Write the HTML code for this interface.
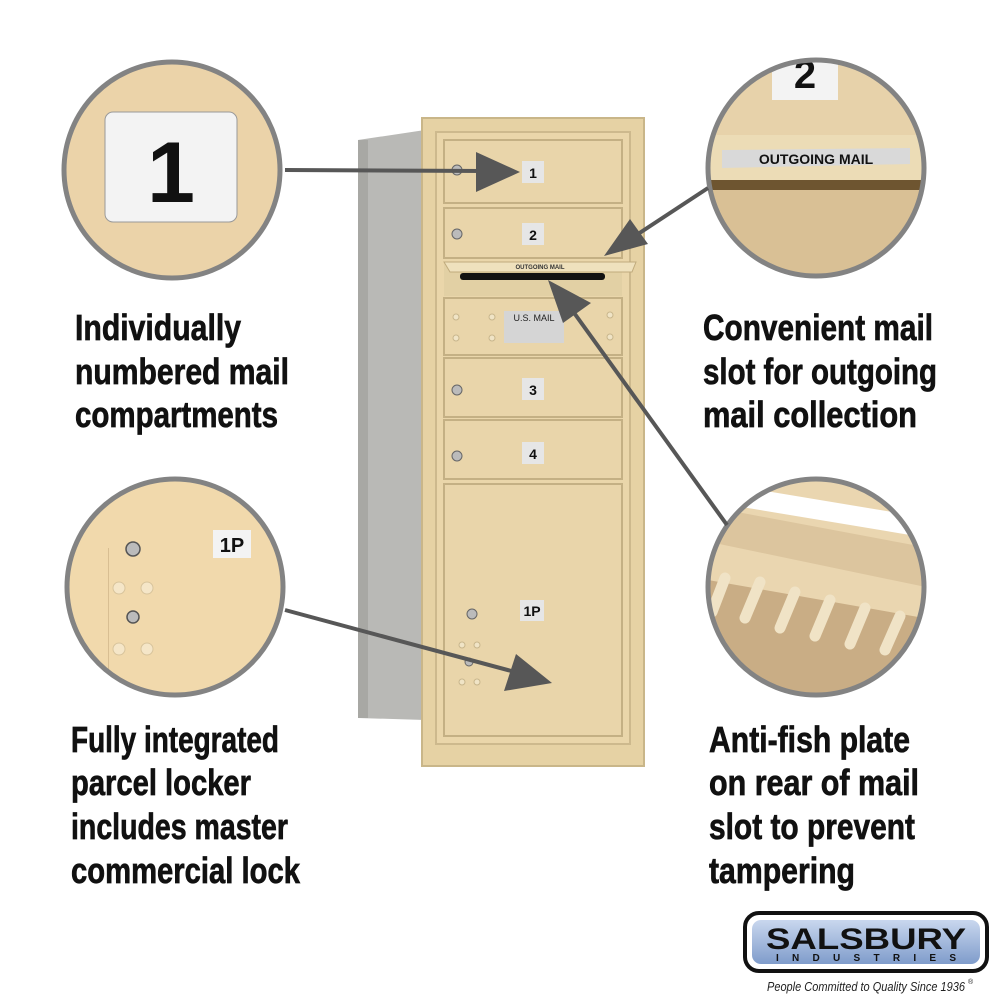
<!DOCTYPE html>
<html><head><meta charset="utf-8"><style>
html,body{margin:0;padding:0;background:#fff;}
svg{display:block}
.t{font-family:"Liberation Sans Narrow","Liberation Sans",sans-serif;font-weight:bold;font-size:36px;fill:#111;stroke:#111;stroke-width:0.7;}
</style></head><body>
<svg width="1000" height="1000" viewBox="0 0 1000 1000" xmlns="http://www.w3.org/2000/svg">
<defs>
<clipPath id="c1"><circle cx="172" cy="170" r="108"/></clipPath>
<clipPath id="c2"><circle cx="816" cy="168" r="108"/></clipPath>
<clipPath id="c3"><circle cx="175" cy="587" r="108"/></clipPath>
<clipPath id="c4"><circle cx="816" cy="587" r="108"/></clipPath>
<linearGradient id="lg" x1="0" y1="0" x2="0" y2="1"><stop offset="0" stop-color="#c9d7ee"/><stop offset="1" stop-color="#7f9ccb"/></linearGradient>
</defs>
<polygon points="358,140 425,130 425,720 358,718" fill="#b9b9b6"/>
<rect x="358" y="140" width="10" height="578" fill="#a8a8a4"/>
<rect x="422" y="118" width="222" height="648" fill="#e6d2a4" stroke="#c9b689" stroke-width="2"/>
<rect x="436" y="132" width="194" height="612" fill="#ead6aa" stroke="#cdb98d" stroke-width="2"/>
<g fill="#e9d5aa" stroke="#c4b084" stroke-width="2">
<rect x="444" y="140" width="178" height="63"/>
<rect x="444" y="208" width="178" height="50"/>
<rect x="444" y="298" width="178" height="57"/>
<rect x="444" y="358" width="178" height="59"/>
<rect x="444" y="420" width="178" height="59"/>
<rect x="444" y="484" width="178" height="252"/>
</g>
<rect x="444" y="262" width="178" height="34" fill="#e2d0a4"/>
<polygon points="444,262 636,262 632,272 450,272" fill="#efe1bd" stroke="#c0ab7d"/>
<rect x="460" y="273" width="145" height="7" rx="3" fill="#111"/>
<text x="540" y="269" font-family="Liberation Sans" font-size="6" font-weight="bold" text-anchor="middle" fill="#333">OUTGOING MAIL</text>
<g font-family="Liberation Sans" font-weight="bold" font-size="14" text-anchor="middle" fill="#111">
<rect x="522" y="161" width="22" height="22" fill="#e6e6e6"/><text x="533" y="178">1</text>
<rect x="522" y="223" width="22" height="22" fill="#e6e6e6"/><text x="533" y="240">2</text>
<rect x="522" y="378" width="22" height="22" fill="#e6e6e6"/><text x="533" y="395">3</text>
<rect x="522" y="442" width="22" height="22" fill="#e6e6e6"/><text x="533" y="459">4</text>
<rect x="520" y="600" width="24" height="21" fill="#e6e6e6"/><text x="532" y="616">1P</text>
</g>
<rect x="504" y="311" width="60" height="32" fill="#d5d5d5"/>
<text x="534" y="321" font-family="Liberation Sans" font-size="9" text-anchor="middle" fill="#222">U.S. MAIL</text>
<g fill="#f0e4c6" stroke="#c8b68c"><circle cx="456" cy="317" r="3"/><circle cx="456" cy="338" r="3"/><circle cx="492" cy="317" r="3"/><circle cx="492" cy="338" r="3"/><circle cx="610" cy="315" r="3"/><circle cx="610" cy="337" r="3"/>
<circle cx="462" cy="645" r="3"/><circle cx="477" cy="645" r="3"/><circle cx="462" cy="682" r="3"/><circle cx="477" cy="682" r="3"/></g>
<g fill="#bbb" stroke="#666"><circle cx="457" cy="170" r="5"/><circle cx="457" cy="234" r="5"/><circle cx="457" cy="390" r="5"/><circle cx="457" cy="456" r="5"/><circle cx="472" cy="614" r="5"/><circle cx="469" cy="662" r="4"/></g>
<g clip-path="url(#c1)"><rect x="60" y="60" width="230" height="230" fill="#ebd3a9"/>
<rect x="105" y="112" width="132" height="110" rx="8" fill="#f3f3f3" stroke="#999"/>
<text x="171" y="202" font-family="Liberation Sans" font-weight="bold" font-size="86" text-anchor="middle" fill="#111">1</text></g>
<circle cx="172" cy="170" r="108" fill="none" stroke="#838383" stroke-width="5"/>
<g clip-path="url(#c2)"><rect x="700" y="55" width="240" height="230" fill="#e7d2aa"/>
<rect x="772" y="55" width="66" height="45" fill="#f3f3f3"/>
<text x="805" y="88" font-family="Liberation Sans" font-weight="bold" font-size="40" text-anchor="middle" fill="#111">2</text>
<rect x="700" y="135" width="240" height="45" fill="#ecdcb6"/>
<polygon points="722,150 910,148 910,164 722,168" fill="#d9d9d9"/>
<text x="816" y="164" font-family="Liberation Sans" font-weight="bold" font-size="14" text-anchor="middle" fill="#111">OUTGOING MAIL</text>
<rect x="700" y="180" width="240" height="10" fill="#6e5530"/>
<rect x="700" y="190" width="240" height="100" fill="#d9c095"/></g>
<circle cx="816" cy="168" r="108" fill="none" stroke="#838383" stroke-width="5"/>
<g clip-path="url(#c3)"><rect x="60" y="470" width="240" height="240" fill="#f1d9ac"/>
<rect x="108" y="548" width="1" height="140" fill="#d8be92"/>
<rect x="213" y="530" width="38" height="28" fill="#f3f3f3"/>
<text x="232" y="552" font-family="Liberation Sans" font-weight="bold" font-size="20" text-anchor="middle" fill="#111">1P</text>
<g fill="#bbb" stroke="#555" stroke-width="1.5"><circle cx="133" cy="549" r="7"/><circle cx="133" cy="617" r="6"/></g>
<g fill="#f5e6c8" stroke="#d8c49c"><circle cx="119" cy="588" r="6"/><circle cx="147" cy="588" r="6"/><circle cx="119" cy="649" r="6"/><circle cx="147" cy="649" r="6"/></g></g>
<circle cx="175" cy="587" r="108" fill="none" stroke="#838383" stroke-width="5"/>
<g clip-path="url(#c4)"><rect x="700" y="470" width="240" height="240" fill="#ead6b0"/>
<polygon points="700,480 940,520 940,540 700,500" fill="#ffffff"/>
<polygon points="700,505 940,550 940,590 700,540" fill="#dcc59e"/>
<rect x="700" y="600" width="240" height="110" fill="#c9ad85" transform="rotate(10 820 620)"/>
<g stroke="#f0e3c6" stroke-width="11" stroke-linecap="round">
<line x1="712" y1="612" x2="725" y2="578"/><line x1="745" y1="618" x2="760" y2="582"/><line x1="780" y1="628" x2="795" y2="592"/><line x1="815" y1="636" x2="830" y2="600"/><line x1="850" y1="644" x2="865" y2="608"/><line x1="885" y1="650" x2="900" y2="616"/></g></g>
<circle cx="816" cy="587" r="108" fill="none" stroke="#838383" stroke-width="5"/>
<g stroke="#575757" stroke-width="4" fill="#575757">
<line x1="285" y1="170" x2="485" y2="171"/><polygon points="476,152 520,172 476,192" stroke="none"/>
<line x1="708" y1="188" x2="635" y2="236"/><polygon points="604,256 630,219 648,244" stroke="none"/>
<line x1="727" y1="525" x2="572" y2="310"/><polygon points="548,280 563,323 591,303" stroke="none"/>
<line x1="285" y1="610" x2="515" y2="672"/><polygon points="552,683 504,691 516,654" stroke="none"/>
</g>
<text class="t" x="75" y="340" textLength="166" lengthAdjust="spacingAndGlyphs">Individually</text>
<text class="t" x="75" y="384" textLength="214" lengthAdjust="spacingAndGlyphs">numbered mail</text>
<text class="t" x="75" y="427" textLength="203" lengthAdjust="spacingAndGlyphs">compartments</text>
<text class="t" x="703" y="340" textLength="230" lengthAdjust="spacingAndGlyphs">Convenient mail</text>
<text class="t" x="703" y="384" textLength="234" lengthAdjust="spacingAndGlyphs">slot for outgoing</text>
<text class="t" x="703" y="427" textLength="214" lengthAdjust="spacingAndGlyphs">mail collection</text>
<text class="t" x="71" y="752" textLength="208" lengthAdjust="spacingAndGlyphs">Fully integrated</text>
<text class="t" x="71" y="795" textLength="180" lengthAdjust="spacingAndGlyphs">parcel locker</text>
<text class="t" x="71" y="839" textLength="217" lengthAdjust="spacingAndGlyphs">includes master</text>
<text class="t" x="71" y="883" textLength="229" lengthAdjust="spacingAndGlyphs">commercial lock</text>
<text class="t" x="709" y="752" textLength="201" lengthAdjust="spacingAndGlyphs">Anti-fish plate</text>
<text class="t" x="709" y="795" textLength="210" lengthAdjust="spacingAndGlyphs">on rear of mail</text>
<text class="t" x="709" y="839" textLength="206" lengthAdjust="spacingAndGlyphs">slot to prevent</text>
<text class="t" x="709" y="883" textLength="146" lengthAdjust="spacingAndGlyphs">tampering</text>
<rect x="745" y="913" width="242" height="58" rx="14" fill="#fff" stroke="#111" stroke-width="4"/>
<rect x="752" y="920" width="228" height="44" rx="9" fill="url(#lg)"/>
<text x="866" y="949" font-family="Liberation Sans" font-weight="bold" font-size="30" text-anchor="middle" fill="#111" textLength="200" lengthAdjust="spacingAndGlyphs">SALSBURY</text>
<text x="866" y="961" font-family="Liberation Sans" font-weight="bold" font-size="10" text-anchor="middle" fill="#111" textLength="180" lengthAdjust="spacing">INDUSTRIES</text>
<text x="767" y="991" font-family="'Liberation Sans Narrow','Liberation Sans',sans-serif" font-style="italic" font-size="13" fill="#222" textLength="198" lengthAdjust="spacingAndGlyphs">People Committed to Quality Since 1936</text>
<text x="968" y="984" font-family="Liberation Sans" font-size="7" fill="#222">®</text>
</svg>
</body></html>
